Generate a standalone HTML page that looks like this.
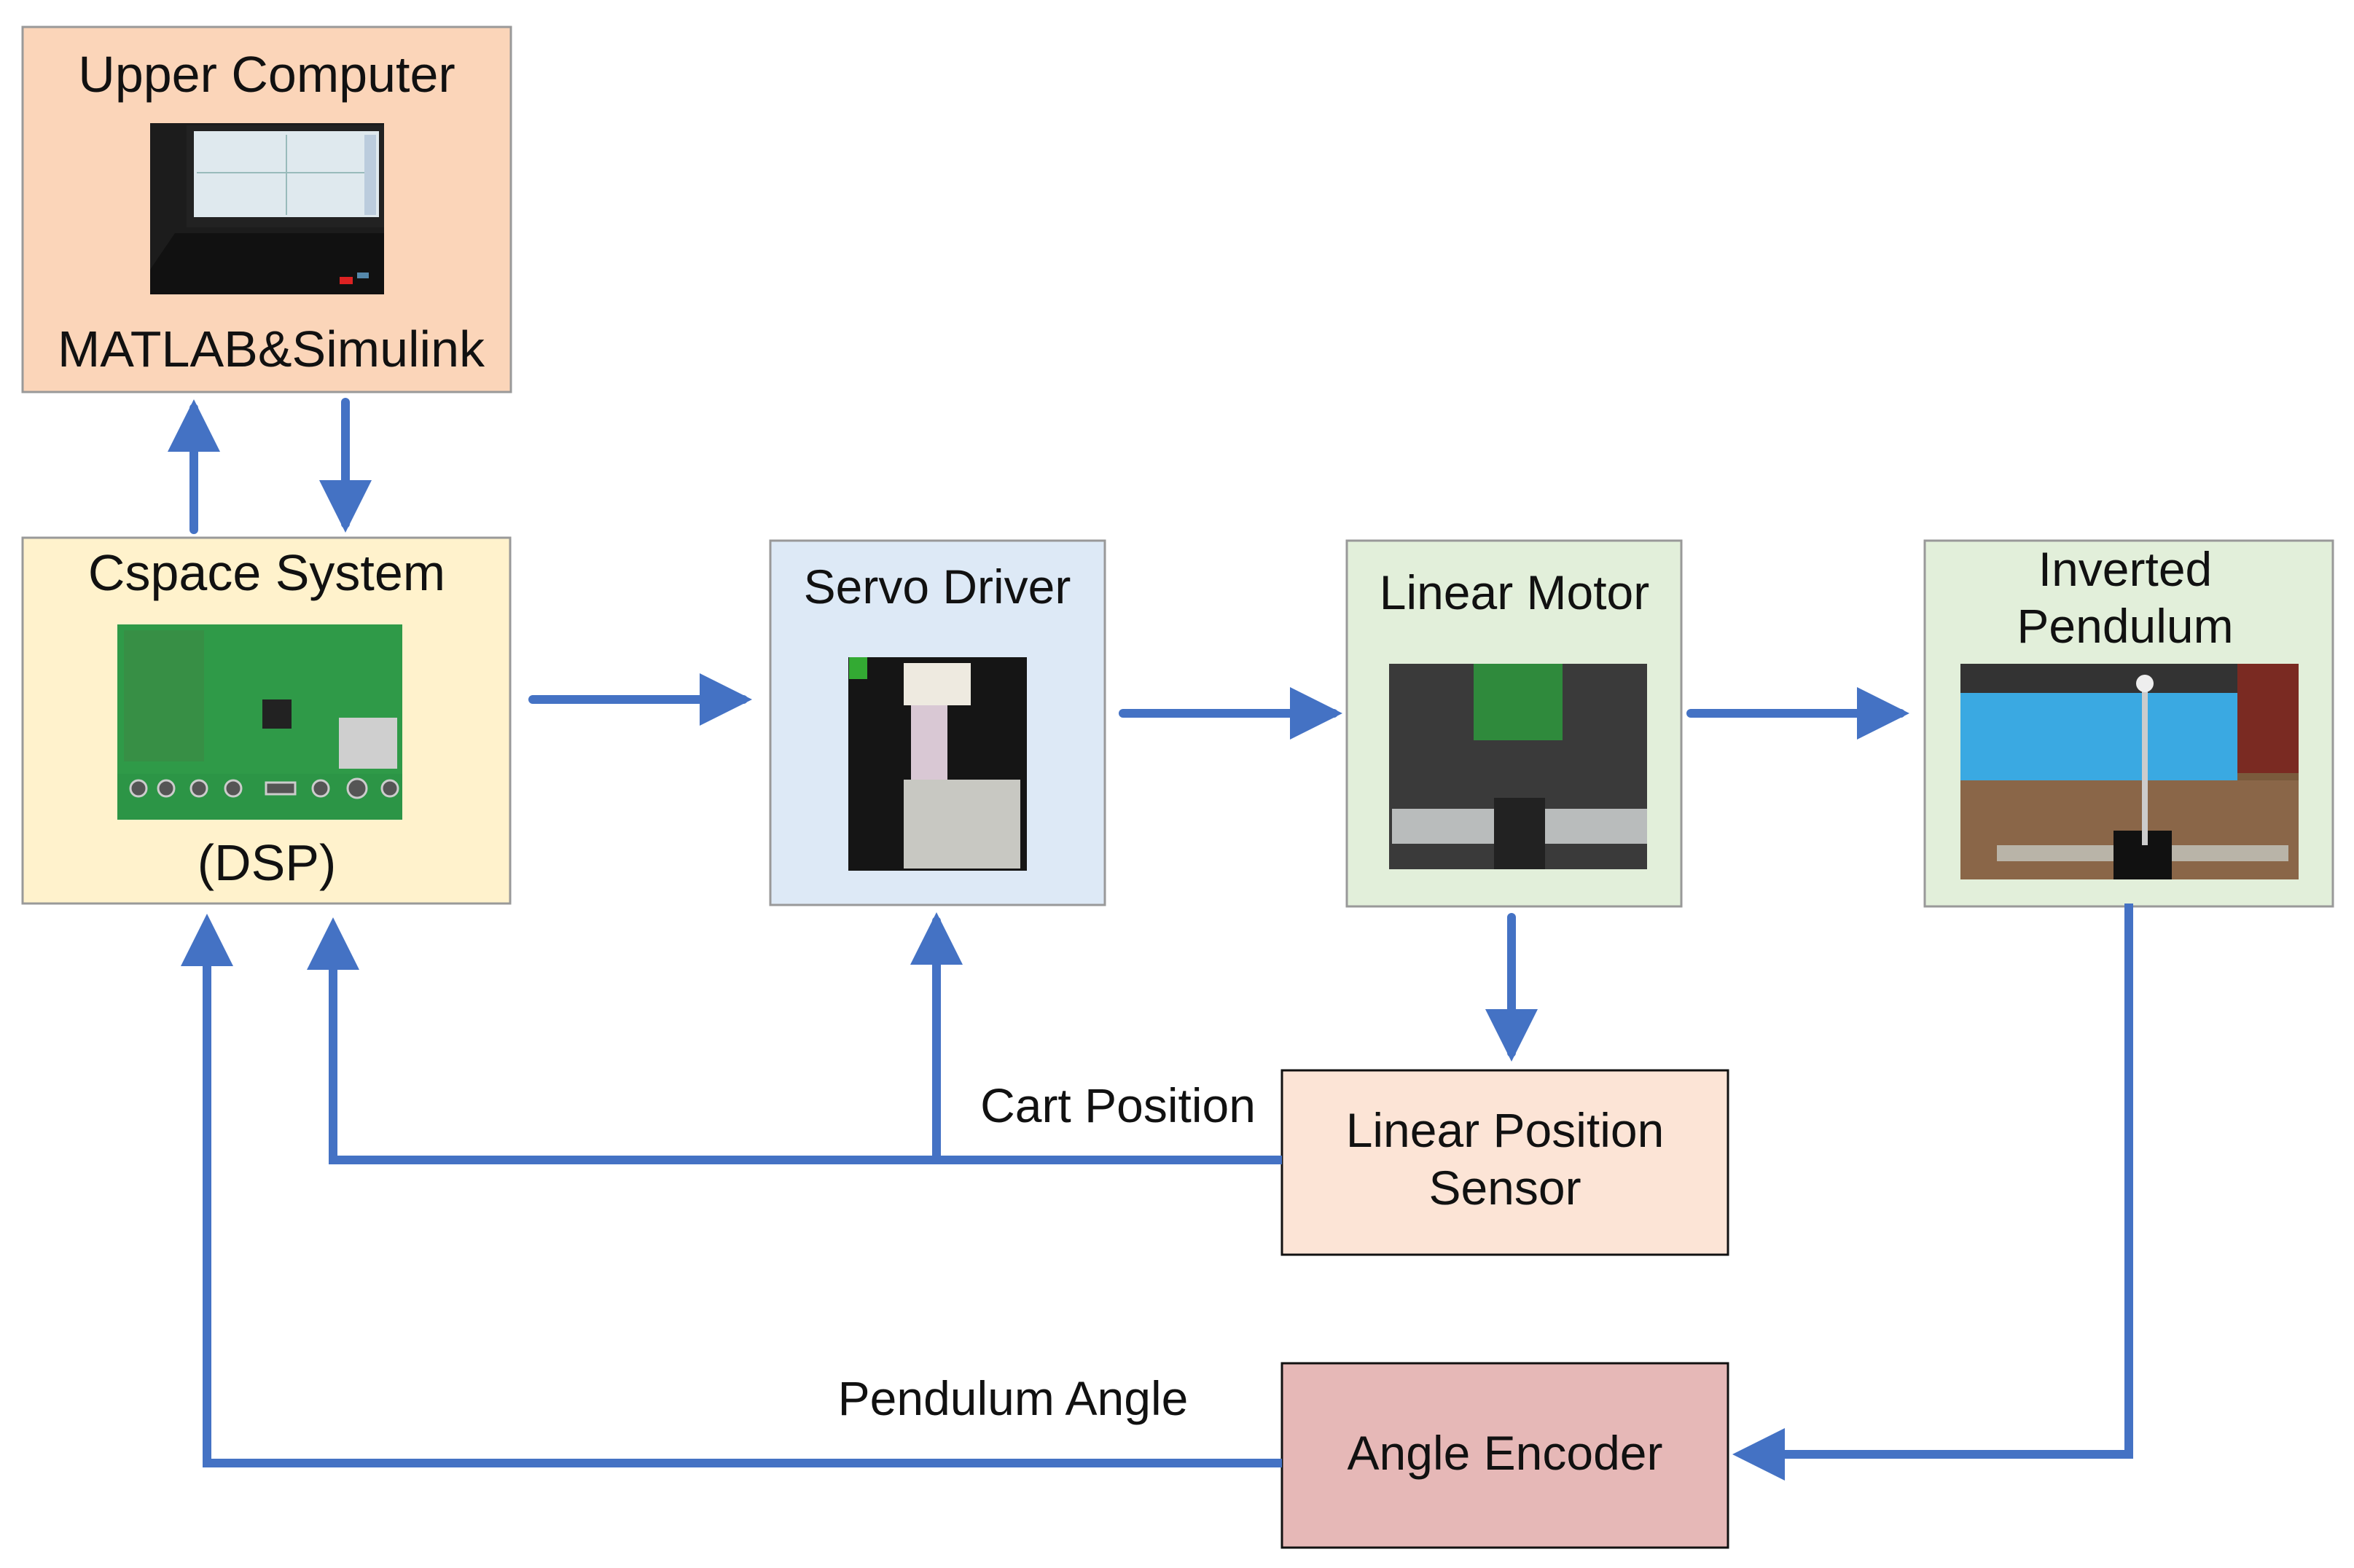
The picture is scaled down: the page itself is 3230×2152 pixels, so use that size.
<!DOCTYPE html>
<html><head><meta charset="utf-8"><style>
html,body{margin:0;padding:0;background:#fff}
svg{display:block}
text{font-family:"Liberation Sans",sans-serif;fill:#111}
</style></head><body>
<svg width="3230" height="2152" viewBox="0 0 3230 2152" xmlns="http://www.w3.org/2000/svg">
<defs>
<marker id="ah" markerWidth="6" markerHeight="6" refX="5" refY="3" orient="auto" markerUnits="strokeWidth">
<path d="M0,0 L6,3 L0,6 z" fill="#4472c4"/></marker>
</defs>
<rect x="31" y="37" width="670" height="501" fill="#fbd5b9" stroke="#999" stroke-width="3"/>
<rect x="31" y="738" width="669" height="502" fill="#fff2cc" stroke="#999" stroke-width="3"/>
<rect x="1057" y="742" width="459" height="500" fill="#dde9f6" stroke="#999" stroke-width="3"/>
<rect x="1848" y="742" width="459" height="502" fill="#e2efda" stroke="#999" stroke-width="3"/>
<rect x="2641" y="742" width="560" height="502" fill="#e2efda" stroke="#999" stroke-width="3"/>
<rect x="1759" y="1469" width="612" height="253" fill="#fce4d6" stroke="#111" stroke-width="3"/>
<rect x="1759" y="1871" width="612" height="253" fill="#e6b8b7" stroke="#111" stroke-width="3"/>

<rect x="206" y="169" width="321" height="235" fill="#1c1c1c"/>
<rect x="256" y="172" width="271" height="140" fill="#222"/>
<rect x="266" y="180" width="254" height="118" fill="#dfe9ee"/>
<line x1="393" y1="185" x2="393" y2="295" stroke="#9bb" stroke-width="2"/>
<line x1="270" y1="237" x2="500" y2="237" stroke="#9bb" stroke-width="2"/>
<rect x="500" y="185" width="16" height="110" fill="#bcd"/>
<polygon points="240,320 527,320 527,404 206,404 206,370" fill="#111"/>
<rect x="466" y="380" width="18" height="10" fill="#d22"/>
<rect x="490" y="374" width="16" height="8" fill="#58a"/>

<rect x="161" y="857" width="391" height="268" fill="#2f9a48"/>
<rect x="170" y="865" width="110" height="180" fill="#3a8a44" opacity="0.7"/>
<rect x="360" y="960" width="40" height="40" fill="#222"/>
<rect x="465" y="985" width="80" height="70" fill="#cfcfcf"/>
<rect x="161" y="1062" width="391" height="63" fill="#2c9546"/>
<g fill="#555" stroke="#ccc" stroke-width="3">
<circle cx="190" cy="1082" r="11"/><circle cx="228" cy="1082" r="11"/><circle cx="273" cy="1082" r="11"/><circle cx="320" cy="1082" r="11"/>
<rect x="365" y="1074" width="40" height="16"/><circle cx="440" cy="1082" r="11"/><circle cx="490" cy="1082" r="13"/><circle cx="535" cy="1082" r="11"/></g>

<rect x="1164" y="902" width="245" height="293" fill="#151515"/>
<rect x="1240" y="910" width="92" height="58" fill="#eeeae0"/>
<rect x="1250" y="968" width="50" height="110" fill="#d9c8d4"/>
<rect x="1240" y="1070" width="160" height="122" fill="#c8c8c2"/>
<rect x="1165" y="902" width="25" height="30" fill="#3a3"/>

<rect x="1906" y="911" width="354" height="282" fill="#3a3a3a"/>
<rect x="2022" y="911" width="122" height="105" fill="#2f8a3c"/>
<rect x="1910" y="1110" width="350" height="48" fill="#b9bcbc"/>
<rect x="2050" y="1095" width="70" height="98" fill="#222"/>

<rect x="2690" y="911" width="464" height="296" fill="#7a5a3c"/>
<rect x="2690" y="911" width="464" height="40" fill="#333"/>
<rect x="2690" y="951" width="380" height="120" fill="#3aa9e2"/>
<rect x="3070" y="911" width="84" height="150" fill="#7a2a22"/>
<rect x="2690" y="1071" width="464" height="136" fill="#8a6648"/>
<rect x="2740" y="1160" width="400" height="22" fill="#b9b4a8"/>
<rect x="2900" y="1140" width="80" height="67" fill="#111"/>
<line x1="2943" y1="940" x2="2943" y2="1160" stroke="#ccc" stroke-width="8"/>
<circle cx="2943" cy="938" r="12" fill="#eee"/>

<g font-size="70" text-anchor="middle">
<text x="366" y="126">Upper Computer</text>
<text x="372" y="503">MATLAB&amp;Simulink</text>
<text x="366" y="810">Cspace System</text>
<text x="366" y="1208">(DSP)</text>
<text x="1286" y="828" font-size="66">Servo Driver</text>
<text x="2078" y="836" font-size="66">Linear Motor</text>
<text x="2916" y="804" font-size="66">Inverted</text>
<text x="2916" y="882" font-size="66">Pendulum</text>
<text x="2065" y="1574" font-size="66">Linear Position</text>
<text x="2065" y="1653" font-size="66">Sensor</text>
<text x="2065" y="2017" font-size="66">Angle Encoder</text>
<text x="1534" y="1540" font-size="66">Cart Position</text>
<text x="1390" y="1942" font-size="66">Pendulum Angle</text>
</g>

<g stroke="#4472c4" stroke-width="12" fill="none" stroke-linecap="round">
<line x1="266" y1="727" x2="266" y2="560" marker-end="url(#ah)"/>
<line x1="474" y1="552" x2="474" y2="719" marker-end="url(#ah)"/>
<line x1="731" y1="960" x2="1020" y2="960" marker-end="url(#ah)"/>
<line x1="1541" y1="979" x2="1830" y2="979" marker-end="url(#ah)"/>
<line x1="2320" y1="979" x2="2608" y2="979" marker-end="url(#ah)"/>
<line x1="2074" y1="1259" x2="2074" y2="1445" marker-end="url(#ah)"/>
<polyline points="1759,1592 457,1592 457,1271" marker-end="url(#ah)" stroke-linecap="butt"/>
<line x1="1285" y1="1592" x2="1285" y2="1264" marker-end="url(#ah)"/>
<polyline points="2921,1240 2921,1996 2389,1996" marker-end="url(#ah)" stroke-linecap="butt"/>
<polyline points="1759,2008 284,2008 284,1266" marker-end="url(#ah)" stroke-linecap="butt"/>
</g>
</svg>
</body></html>
